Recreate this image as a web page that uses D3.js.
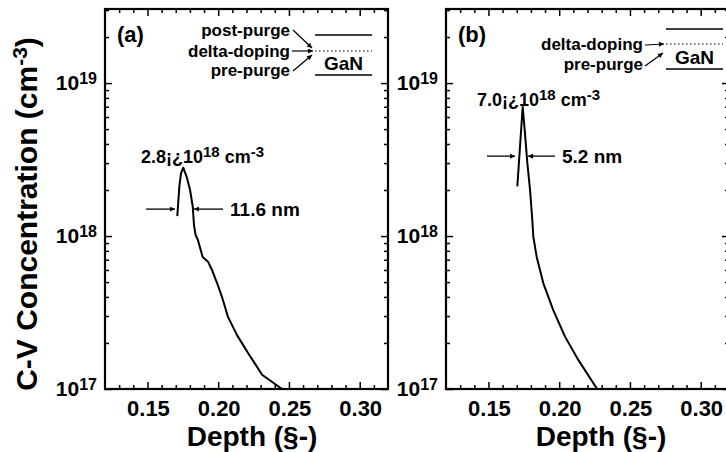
<!DOCTYPE html>
<html>
<head>
<meta charset="utf-8">
<script src="https://d3js.org/d3.v7.min.js"></script>
<style>
  body { margin: 0; background: #fff; }
  svg text { font-family: "Liberation Sans", Arial, sans-serif; font-weight: bold; fill: #000; }
</style>
</head>
<body>
<svg id="chart" width="726" height="452"></svg>
<script>
// C-V profile, panel (a)
const depthA = [0.1711, 0.1725, 0.1737, 0.1753, 0.1777, 0.1801, 0.1820, 0.1829, 0.1840, 0.1857,
  0.1890, 0.1928, 0.1956, 0.1992, 0.2027, 0.2069, 0.2133, 0.2211, 0.2310, 0.2451];
const concA = [1.35e18, 2.09e18, 2.57e18, 2.8e18, 2.44e18, 2.0e18, 1.56e18, 1.18e18, 1.02e18, 9.4e17,
  7.3e17, 6.8e17, 6.0e17, 4.93e17, 3.99e17, 2.96e17, 2.25e17, 1.72e17, 1.24e17, 1.0e17];
// C-V profile, panel (b)
const depthB = [0.1704, 0.1742, 0.1758, 0.1775, 0.1794, 0.1810, 0.1817, 0.1841, 0.1888, 0.1958,
  0.2041, 0.2135, 0.2268];
const concB = [2.11e18, 7.0e18, 4.71e18, 2.99e18, 2.0e18, 1.27e18, 9.9e17, 7.3e17, 4.91e17, 3.28e17,
  2.20e17, 1.55e17, 1.0e17];

const xTicks = [0.15, 0.20, 0.25, 0.30];
const xTickLabels = ["0.15", "0.20", "0.25", "0.30"];
const xMinor = [0.13, 0.14, 0.16, 0.17, 0.18, 0.19, 0.21, 0.22, 0.23, 0.24, 0.26, 0.27, 0.28, 0.29, 0.31];
const yTicks = [1e17, 1e18, 1e19];
const yTickExp = ["17", "18", "19"];
const yMinor = [2e17, 3e17, 4e17, 5e17, 6e17, 7e17, 8e17, 9e17,
  2e18, 3e18, 4e18, 5e18, 6e18, 7e18, 8e18, 9e18, 2e19, 3e19];

const xDomain = [0.12, 0.32];
const yDomain = [1e17, 3.05e19];

const plotTop = 9, plotBottom = 389, plotW = 283;
const svg = d3.select("#chart");

svg.append("defs").append("marker")
  .attr("id", "ah")
  .attr("viewBox", "0 0 10 10")
  .attr("refX", 10).attr("refY", 5)
  .attr("markerWidth", 7).attr("markerHeight", 5)
  .attr("markerUnits", "userSpaceOnUse")
  .attr("orient", "auto")
  .append("path").attr("d", "M0,0L10,5L0,10z").attr("fill", "#000");

const panels = [
  { left: 105, depth: depthA, conc: concA, tag: "(a)", peakTxt: "2.8", peakAt: [0.1454, 2.8e18], peakDy: -5,
    fwhm: { conc: 1.5e18, l: [0.149, 0.1695], r: [0.2034, 0.1829], txt: "11.6 nm", tx: 0.2084 },
    legend: [["post-purge", 36, [293, 30, 312, 48]], ["delta-doping", 57, [292, 51, 313, 51]], ["pre-purge", 76, [293, 71, 312, 55]]],
    textEnd: 290, lines: [315, 372, 35, 51, 75], ganY: 70, titleX: 252 },
  { left: 446, depth: depthB, conc: concB, tag: "(b)", peakTxt: "7.0", peakAt: [0.1419, 7.0e18], peakDy: -1,
    fwhm: { conc: 3.33e18, l: [0.149, 0.1688], r: [0.197, 0.178], txt: "5.2 nm", tx: 0.2020 },
    legend: [["delta-doping", 50, [645, 45, 664, 44]], ["pre-purge", 70, [645, 66, 663, 53]]],
    textEnd: 643, lines: [666, 723, 29, 44, 69], ganY: 64, titleX: 601 }
];

function drawPanel(p) {
  const x = d3.scaleLinear().domain(xDomain).range([p.left, p.left + plotW]);
  const y = d3.scaleLog().domain(yDomain).range([plotBottom, plotTop]);
  const g = svg.append("g");
  const noDomain = s => s.select(".domain").remove();

  // ticks on all four sides, pointing inward
  [[d3.axisBottom, plotBottom], [d3.axisTop, plotTop]].forEach(([ax, pos]) => {
    g.append("g").attr("transform", `translate(0,${pos})`)
      .call(ax(x).tickValues(xMinor).tickSize(-4).tickFormat("")).call(noDomain);
    g.append("g").attr("transform", `translate(0,${pos})`)
      .call(ax(x).tickValues(xTicks).tickSize(-7).tickFormat("")).call(noDomain);
  });
  [[d3.axisLeft, p.left], [d3.axisRight, p.left + plotW]].forEach(([ax, pos]) => {
    g.append("g").attr("transform", `translate(${pos},0)`)
      .call(ax(y).tickValues(yMinor).tickSize(-4).tickFormat("")).call(noDomain);
    g.append("g").attr("transform", `translate(${pos},0)`)
      .call(ax(y).tickValues(yTicks).tickSize(-7).tickFormat("")).call(noDomain);
  });
  g.selectAll(".tick line").attr("stroke", "#000").attr("stroke-width", 1.5);

  g.append("rect")
    .attr("x", p.left).attr("y", plotTop)
    .attr("width", plotW).attr("height", plotBottom - plotTop)
    .attr("fill", "none").attr("stroke", "#000").attr("stroke-width", 2.2);

  // tick labels
  g.selectAll(".xl").data(xTicks).join("text")
    .attr("x", d => x(d) + 1).attr("y", 416)
    .attr("text-anchor", "middle").style("font-size", "22px")
    .text((d, i) => xTickLabels[i]);

  const yl = g.selectAll(".yl").data(yTicks).join("text")
    .attr("x", p.left - 8).attr("y", d => y(d) + 7)
    .attr("text-anchor", "end").style("font-size", "21px");
  yl.append("tspan").text("10");
  yl.append("tspan").attr("dy", -6).style("font-size", "16px").text((d, i) => yTickExp[i]);

  // profile
  const pts = p.depth.map((d, i) => [d, p.conc[i]]);
  g.append("path").datum(pts)
    .attr("d", d3.line().x(d => x(d[0])).y(d => y(d[1])))
    .attr("fill", "none").attr("stroke", "#000").attr("stroke-width", 2)
    .attr("stroke-linejoin", "round");

  // panel tag
  g.append("text").attr("x", p.left + 12).attr("y", 42).style("font-size", "22px").text(p.tag);

  // peak label
  const pk = g.append("text")
    .attr("x", x(p.peakAt[0])).attr("y", y(p.peakAt[1]) + p.peakDy)
    .style("font-size", "18px");
  pk.append("tspan").text(p.peakTxt + "¡¿10");
  pk.append("tspan").attr("dy", -6).style("font-size", "15px").text("18");
  pk.append("tspan").attr("dy", 6).text(" cm");
  pk.append("tspan").attr("dy", -6).style("font-size", "15px").text("-3");

  // FWHM arrows
  const f = p.fwhm, fy = y(f.conc);
  [f.l, f.r].forEach(s => {
    g.append("line").attr("x1", x(s[0])).attr("x2", x(s[1])).attr("y1", fy).attr("y2", fy)
      .attr("stroke", "#000").attr("stroke-width", 1.3).attr("marker-end", "url(#ah)");
  });
  g.append("text").attr("x", x(f.tx)).attr("y", fy + 7).style("font-size", "19px").text(f.txt);

  // layer legend
  p.legend.forEach(([t, by, a]) => {
    g.append("text").attr("x", p.textEnd).attr("y", by).attr("text-anchor", "end")
      .style("font-size", "17px").text(t);
    g.append("line").attr("x1", a[0]).attr("y1", a[1]).attr("x2", a[2]).attr("y2", a[3])
      .attr("stroke", "#000").attr("stroke-width", 1.2).attr("marker-end", "url(#ah)");
  });
  const [lx1, lx2, ly1, ly2, ly3] = p.lines;
  g.append("line").attr("x1", lx1).attr("x2", lx2).attr("y1", ly1).attr("y2", ly1)
    .attr("stroke", "#000").attr("stroke-width", 1.5);
  g.append("line").attr("x1", lx1).attr("x2", lx2).attr("y1", ly2).attr("y2", ly2)
    .attr("stroke", "#000").attr("stroke-width", 1.2).attr("stroke-dasharray", "1.5,2.5");
  g.append("line").attr("x1", lx1).attr("x2", lx2).attr("y1", ly3).attr("y2", ly3)
    .attr("stroke", "#000").attr("stroke-width", 1.5);
  g.append("text").attr("x", (lx1 + lx2) / 2).attr("y", p.ganY).attr("text-anchor", "middle")
    .style("font-size", "19px").text("GaN");

  // x title
  g.append("text").attr("x", p.titleX).attr("y", 446).attr("text-anchor", "middle")
    .style("font-size", "28px").text("Depth (§-)");
}

panels.forEach(drawPanel);

// y title
const yt = svg.append("text")
  .attr("transform", "translate(37,214) rotate(-90)")
  .attr("text-anchor", "middle").style("font-size", "30px");
yt.append("tspan").text("C-V Concentration (cm");
yt.append("tspan").attr("dy", -10).style("font-size", "21px").text("-3");
yt.append("tspan").attr("dy", 10).text(")");
</script>
</body>
</html>
